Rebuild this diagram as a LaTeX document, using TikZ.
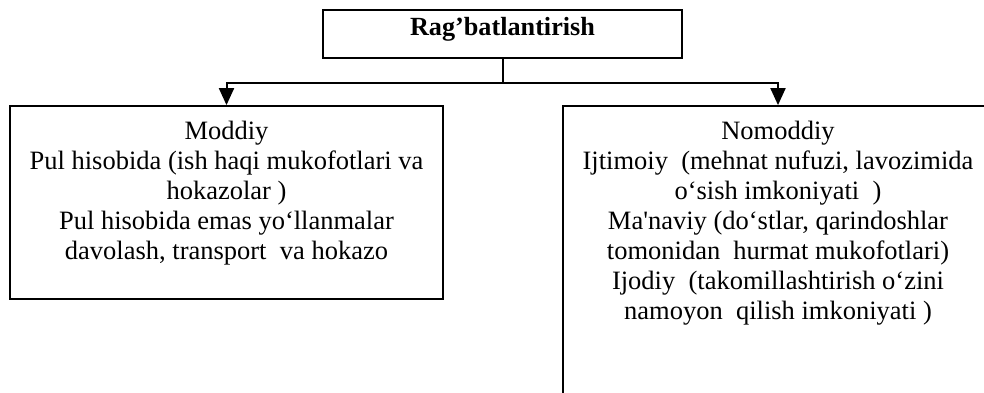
\documentclass[tikz,border=0pt]{standalone}
\usepackage{fontspec}
\setmainfont{Liberation Serif}
\usetikzlibrary{arrows.meta}
\begin{document}
\begin{tikzpicture}[x=1pt,y=-1pt,
  box/.style={draw,line width=1.8pt,inner sep=0pt},
  body/.style={align=center,inner sep=0pt,anchor=north,
    font=\fontsize{26.5}{30}\selectfont},
  link/.style={line width=2pt},
  arrowlink/.style={link,-{Triangle[width=15pt,length=17pt]}}]
  \useasboundingbox (0,0) rectangle (984,392);

  % heading
  \node[box,minimum width=359pt,minimum height=48pt] (title) at (502.5,34) {};
  \node[anchor=base,inner sep=0pt,font=\fontsize{26.2}{30}\selectfont\bfseries]
    (titletxt) at (502.5,35.5) {Rag’batlantirish};

  % left branch
  \node[box,minimum width=433pt,minimum height=193pt] (moddiy) at (226.5,202.5) {};
  \node[body] (moddiytxt) at (226.5,120.5) {Moddiy\\
    Pul hisobida (ish haqi mukofotlari va\\
    hokazolar )\\
    Pul hisobida emas yo‘llanmalar\\
    davolash, transport\ \ va hokazo};

  % right branch (runs past the lower and right edges)
  \node[box,minimum width=430pt,minimum height=340pt] (nomoddiy) at (778,276) {};
  \node[body] (nomoddiytxt) at (778,120.5) {Nomoddiy\\
    Ijtimoiy\ \ (mehnat nufuzi, lavozimida\\
    o‘sish imkoniyati\ \ )\\
    Ma\textquotesingle naviy (do‘stlar, qarindoshlar\\
    tomonidan\ \ hurmat mukofotlari)\\
    Ijodiy\ \ (takomillashtirish o‘zini\\
    namoyon\ \ qilish imkoniyati )};

  % connectors
  \draw[link] (title.south) -- ++(0,24) coordinate (junction);
  \draw[arrowlink] (junction) -| (moddiy.north);
  \draw[arrowlink] (junction) -| (nomoddiy.north);
\end{tikzpicture}
\end{document}
